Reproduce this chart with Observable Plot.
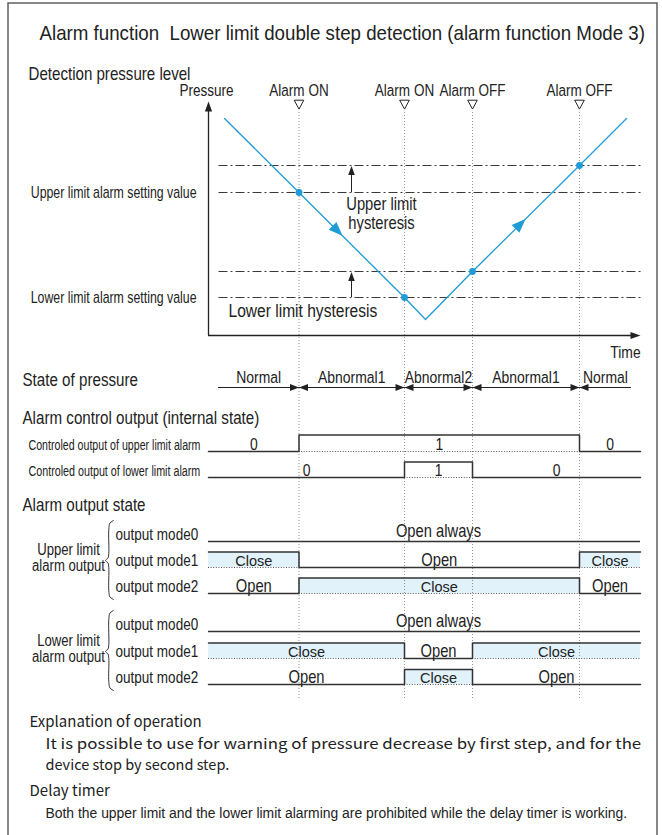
<!DOCTYPE html>
<html><head><meta charset="utf-8">
<script src="https://cdn.jsdelivr.net/npm/d3@7"></script>
<script src="https://cdn.jsdelivr.net/npm/@observablehq/plot@0.6"></script>
<style>html,body{margin:0;padding:0;background:#fff}svg{display:block}</style>
</head><body><div id="chart"></div>
<script>
// ---------------- DATA ----------------
const title = "Alarm function  Lower limit double step detection (alarm function Mode 3)";
const sectionTitles = ["Detection pressure level", "State of pressure", "Alarm control output (internal state)", "Alarm output state"];
const eventLabels = ["Alarm ON", "Alarm ON", "Alarm OFF", "Alarm OFF"];
const eventTimes = [9.05, 19.6, 26.4, 37.1];
const timeEnd = 43.2;
const pressureTimes = [1.6, 9.05, 19.6, 21.7, 26.4, 37.1, 41.8];
const pressureValues = [21.7, 14.3, 3.8, 1.6, 6.4, 17.0, 21.7];
const crossingIndex = [1, 2, 4, 5];
const directionTimes = [13.4, 31.7];
const levelNames = ["Upper limit alarm setting value", "Lower limit alarm setting value"];
const levelValues = [14.3, 3.8];
const releaseValues = [17.0, 6.4];
const hysteresisNames = ["Upper limit\nhysteresis", "Lower limit hysteresis"];
const stateNames = ["Normal", "Abnormal1", "Abnormal2", "Abnormal1", "Normal"];
const stateBounds = [1.0, 9.05, 19.6, 26.4, 37.1, 42.3];
const ctrlNames = ["Controled output of upper limit alarm", "Controled output of lower limit alarm"];
const upperCtrlBounds = [0, 9.05, 37.1, 43.2];
const upperCtrlValues = [0, 1, 0];
const lowerCtrlBounds = [0, 19.6, 26.4, 43.2];
const lowerCtrlValues = [0, 1, 0];
const groupNames = ["Upper limit\nalarm output", "Lower limit\nalarm output"];
const modeNames = ["output mode0", "output mode1", "output mode2"];
const mode0Text = "Open always";
const upperMode1 = ["Close", "Open", "Close"];
const upperMode2 = ["Open", "Close", "Open"];
const lowerMode1 = ["Close", "Open", "Close"];
const lowerMode2 = ["Open", "Close", "Open"];
const noteHeads = ["Explanation of operation", "Delay timer"];
const noteLines1 = ["It is possible to use for warning of pressure decrease by first step, and for the", "device stop by second step."];
const noteLines2 = ["Both the upper limit and the lower limit alarming are prohibited while the delay timer is working."];

// ---------------- LAYOUT / STYLE ----------------
const L = {x0: 208, pxPerT: 10, P0: 335, pxPerP: 10};
const tx = px => (px - L.x0) / L.pxPerT;
const py = p => L.P0 - L.pxPerP * p;
const BLUE = "#1f9bd7", FILL = "#e1f2fb", INK = "#222", LINE = "#333";
const NARROW = "'Liberation Sans',Arial,sans-serif";       // compressed after rendering
const SANS = "'Liberation Sans',sans-serif";
const GOTHIC = "'Noto Sans CJK JP','Noto Sans',sans-serif";
const NARROW_SCALE = 0.82;

function head(angle, len = 9, half = 3.3) {
  const a = angle * Math.PI / 180, ux = Math.sin(a), uy = -Math.cos(a), nx = -uy, ny = ux;
  return {draw(ctx, size) {
    const k = Math.sqrt(size / Math.PI) / 4, l = len * k, h = half * k;
    ctx.moveTo(0, 0);
    ctx.lineTo(-ux * l + nx * h, -uy * l + ny * h);
    ctx.lineTo(-ux * l - nx * h, -uy * l - ny * h);
    ctx.closePath();
  }};
}
const triDown = {draw(ctx, size) {
  const k = Math.sqrt(size / Math.PI) / 4;
  ctx.moveTo(-4.8 * k, -4.3 * k); ctx.lineTo(4.8 * k, -4.3 * k); ctx.lineTo(0, 4.6 * k); ctx.closePath();
}};
const headAt = (data, x, y, sym, fill = INK) => Plot.dot(data, {x, y, symbol: sym, r: 4, fill, stroke: "none"});
const txt = (s, xpx, y, o = {}) => Plot.text([s], {x: tx(xpx), y, text: d => d, textAnchor: "start", fontSize: 16, fontFamily: NARROW, fill: INK, ...o});

function row(labels, bounds, values, low, h) { return {labels, bounds, values, low, h}; }
const ctrlRows = [
  row(upperCtrlValues.map(String), upperCtrlBounds, upperCtrlValues, 451, 16.5),
  row(lowerCtrlValues.map(String), lowerCtrlBounds, lowerCtrlValues, 477, 15.5)
];
const isClose = s => s === "Close" ? 1 : 0;
const modeRows = [
  row(upperMode1, upperCtrlBounds, upperMode1.map(isClose), 567, 15.5),
  row(upperMode2, upperCtrlBounds, upperMode2.map(isClose), 593, 15.5),
  row(lowerMode1, lowerCtrlBounds, lowerMode1.map(isClose), 658, 15.5),
  row(lowerMode2, lowerCtrlBounds, lowerMode2.map(isClose), 684, 15)
];
const mode0Lows = [541, 631];
const groupLows = [[541, 567, 593], [631, 658, 684]];

function steps(r) {
  const pts = r.values.map((v, i) => ({t: r.bounds[i], y: v ? r.low - r.h : r.low}));
  pts.push({t: r.bounds[r.bounds.length - 1], y: pts[pts.length - 1].y});
  return pts;
}
function segs(r) {
  return r.labels.map((s, i) => ({s, v: r.values[i], t0: r.bounds[i], t1: r.bounds[i + 1], tm: (r.bounds[i] + r.bounds[i + 1]) / 2, low: r.low, high: r.low - r.h}));
}
const allSignalRows = [...ctrlRows, ...modeRows];
const highSegs = allSignalRows.flatMap(segs).filter(d => d.v);
const fillSegs = modeRows.flatMap(segs).filter(d => d.v);

function brace(low) {
  const top = low[0] - 21, bot = low[2] + 6, mid = low[1] - 7;
  return [[113, top], [109.5, top + 2.5], [108.3, top + 9], [108.3, mid - 7], [107.5, mid - 2.5], [105, mid], [107.5, mid + 2.5], [108.3, mid + 7], [108.3, bot - 9], [109.5, bot - 2.5], [113, bot]]
    .map(([x, y]) => ({t: tx(x), y}));
}

const pressure = pressureTimes.map((t, i) => ({t, p: pressureValues[i]}));
const pAt = d3.scaleLinear(pressureTimes, pressureValues);
const directions = directionTimes.map(t => {
  const v = [L.pxPerT, -L.pxPerP * (pAt(t + 0.1) - pAt(t)) / 0.1];
  return {t, p: pAt(t), angle: Math.atan2(v[0], -v[1]) * 180 / Math.PI};
});
const stateSegs = stateNames.map((s, i) => ({s, tm: (stateBounds[i] + stateBounds[i + 1]) / 2}));
const innerBounds = stateBounds.slice(1, -1);
const hystUpperLines = hysteresisNames[0].split("\n");
const groupLines = groupNames.flatMap((g, i) => g.split("\n").map((s, j) => ({s, i, j})));

const marks = [
  Plot.rect([0], {x1: tx(8), x2: tx(657), y1: 3, y2: 845, fill: "none", stroke: "#555", strokeWidth: 1.4}),
  Plot.rect(fillSegs, {x1: "t0", x2: "t1", y1: "high", y2: "low", fill: FILL}),
  Plot.ruleX(eventTimes, {x: d => d, y1: 112, y2: 700, stroke: "#777", strokeWidth: 0.8, strokeDasharray: "1,2"}),
  Plot.ruleY([...levelValues, ...releaseValues], {y: d => py(d), x1: 1.05, x2: 43.4, stroke: "#222", strokeWidth: 0.9, strokeDasharray: "9,3,2,3"}),
  Plot.ruleX([0], {x: d => d, y1: py(0), y2: 108, stroke: INK, strokeWidth: 1.3}),
  headAt([0], 0, 101, head(0, 10, 3.6)),
  Plot.ruleY([py(0)], {y: d => d, x1: 0, x2: timeEnd - 0.6, stroke: INK, strokeWidth: 1.3}),
  headAt([0], timeEnd, py(0), head(90, 10, 3.6)),
  Plot.ruleX(levelValues, {x: tx(351), y1: d => py(d), y2: (d, i) => py(releaseValues[i]) + 6, stroke: INK, strokeWidth: 1}),
  headAt(releaseValues, tx(351), d => py(d) + 0.5, head(0, 9, 3.3)),
  Plot.line(pressure, {x: "t", y: d => py(d.p), stroke: BLUE, strokeWidth: 1.3}),
  Plot.dot(crossingIndex.map(i => pressure[i]), {x: "t", y: d => py(d.p), r: 3.4, fill: BLUE}),
  ...directions.map(d => headAt([d], "t", e => py(e.p), head(d.angle, 14, 5.5), BLUE)),
  Plot.dot(eventTimes, {x: d => d, y: 104, symbol: triDown, r: 4, fill: "white", stroke: INK, strokeWidth: 1}),
  Plot.ruleY([387], {y: d => d, x1: stateBounds[0], x2: stateBounds[stateBounds.length - 1], stroke: INK, strokeWidth: 1.1}),
  headAt(innerBounds, d => d, 387, head(90, 9, 3.6)),
  headAt(innerBounds, d => d, 387, head(270, 9, 3.6)),
  Plot.text(stateSegs, {x: "tm", y: 377, text: "s", fontSize: 17, fontFamily: NARROW, fill: INK}),
  Plot.ruleY(highSegs, {y: "low", x1: "t0", x2: "t1", stroke: "#555", strokeWidth: 1, strokeDasharray: "1,1.6"}),
  ...allSignalRows.map(r => Plot.line(steps(r), {x: "t", y: "y", curve: "step-after", stroke: LINE, strokeWidth: 1.5})),
  Plot.ruleY(mode0Lows, {y: d => d, x1: 0, x2: timeEnd, stroke: LINE, strokeWidth: 1.5}),
  ...groupLows.map(g => Plot.line(brace(g), {x: "t", y: "y", curve: "catmull-rom", stroke: LINE, strokeWidth: 1})),
  ...ctrlRows.map(r => Plot.text(segs(r), {x: "tm", y: d => d.low - 7, text: "s", fontSize: 17, fontFamily: NARROW, fill: INK})),
  ...modeRows.map(r => Plot.text(segs(r).filter(d => d.s === "Open"), {x: "tm", y: d => d.low - 7.5, text: "s", fontSize: 18, fontFamily: NARROW, fill: INK})),
  ...modeRows.map(r => Plot.text(segs(r).filter(d => d.s === "Close"), {x: "tm", y: d => d.low - 6.5, text: "s", fontSize: 14.5, fontFamily: SANS, fill: INK})),
  Plot.text(mode0Lows, {x: (eventTimes[1] + eventTimes[2]) / 2, y: d => d - 10.5, text: () => mode0Text, fontSize: 18, fontFamily: NARROW, fill: INK}),
  txt(title, 39, 33, {fontSize: 20}),
  txt(sectionTitles[0], 28, 74, {fontSize: 18}),
  txt(sectionTitles[1], 22, 380, {fontSize: 18.5}),
  txt(sectionTitles[2], 22, 418, {fontSize: 18.5}),
  txt(sectionTitles[3], 22, 505, {fontSize: 18.5}),
  txt("Pressure", 206, 90, {textAnchor: "middle", fontSize: 16.5}),
  txt("Time", 625, 352, {textAnchor: "middle", fontSize: 17}),
  Plot.text(eventLabels, {x: (d, i) => eventTimes[i], y: 90, text: d => d, fontSize: 16.5, fontFamily: NARROW, fill: INK}),
  Plot.text(levelNames, {x: tx(196), y: (d, i) => py(levelValues[i]), text: d => d, textAnchor: "end", fontSize: 16, fontFamily: NARROW, fill: INK}),
  Plot.text(hystUpperLines, {x: tx(381), y: (d, i) => 203.5 + 19 * i, text: d => d, fontSize: 18, fontFamily: NARROW, fill: INK}),
  txt(hysteresisNames[1], 228, 310, {fontSize: 19}),
  Plot.text(ctrlNames, {x: tx(28), y: (d, i) => ctrlRows[i].low - 6, text: d => d, textAnchor: "start", fontSize: 15, fontFamily: NARROW, fill: INK}),
  ...groupLows.map(g => Plot.text(modeNames, {x: tx(115), y: (d, i) => g[i] - 6.5, text: d => d, textAnchor: "start", fontSize: 16.5, fontFamily: NARROW, fill: INK})),
  Plot.text(groupLines, {x: tx(68), y: d => groupLows[d.i][1] - 18 + 16.5 * d.j, text: "s", fontSize: 16, fontFamily: NARROW, fill: INK}),
  txt(noteHeads[0], 29, 722, {fontSize: 15, fontFamily: GOTHIC}),
  txt(noteLines1[0], 45, 744, {fontSize: 14.5, fontFamily: GOTHIC}),
  txt(noteLines1[1], 45, 765, {fontSize: 14.5, fontFamily: GOTHIC}),
  txt(noteHeads[1], 29, 791, {fontSize: 15, fontFamily: GOTHIC}),
  txt(noteLines2[0], 45, 813, {fontSize: 15})
];

const chart = Plot.plot({
  width: 662, height: 835, margin: 0,
  x: {domain: [tx(0), tx(662)], range: [0, 662], axis: null},
  y: {domain: [0, 835], range: [0, 835], axis: null},
  style: {fontFamily: NARROW, background: "white", color: INK, overflow: "hidden"},
  marks
});
document.getElementById("chart").appendChild(chart);

// condensed lettering: narrow texts are squeezed horizontally around their anchor;
// long texts are fitted to the widths seen in the reference
const FIT = new Map([
  [title, 606], [sectionTitles[0], 162],
  [levelNames[0], 166], [levelNames[1], 166],
  [ctrlNames[0], 172], [ctrlNames[1], 172],
  [noteLines1[0], 596], [noteLines2[0], 582]
]);
chart.querySelectorAll("text").forEach(el => {
  const g = el.closest("[font-family]");
  const fam = g ? g.getAttribute("font-family") : "";
  const target = FIT.get(el.textContent);
  let s = null;
  if (target) s = target / el.getComputedTextLength();
  else if (fam === NARROW) s = NARROW_SCALE;
  if (s && el.getAttribute("transform")) el.setAttribute("transform", el.getAttribute("transform") + ` scale(${s.toFixed(4)},1)`);
});
</script>
</body></html>
